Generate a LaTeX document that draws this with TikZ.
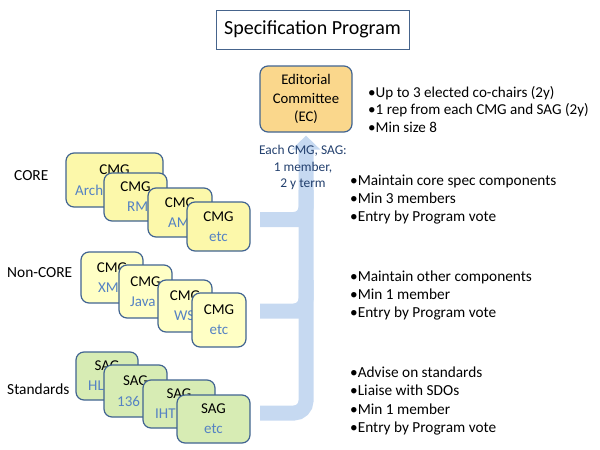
\documentclass[tikz,border=0pt]{standalone}
\usepackage{fontspec}
\setmainfont{Carlito}
\usetikzlibrary{arrows.meta,calc}

\definecolor{boxline}{RGB}{65,100,145}
\definecolor{titleline}{RGB}{70,100,140}
\definecolor{corefill}{RGB}{252,248,170}
\definecolor{ncfill}{RGB}{255,255,197}
\definecolor{stdfill}{RGB}{215,236,180}
\definecolor{ecfill}{RGB}{250,215,140}
\definecolor{subblue}{RGB}{85,130,195}
\definecolor{termblue}{RGB}{35,64,110}
\definecolor{flowblue}{RGB}{198,217,241}

\tikzset{
  grp/.style={draw=boxline, line width=1.2pt, rounded corners=8pt, inner sep=0pt},
  core/.style={grp, fill=corefill},
  noncore/.style={grp, fill=ncfill},
  std/.style={grp, fill=stdfill},
  boxtext/.style={font=\fontsize{15}{19}\selectfont, inner sep=0pt},
  subtext/.style={boxtext, text=subblue},
  rowlabel/.style={font=\fontsize{15.4}{19}\selectfont, inner sep=0pt, anchor=west},
  notes/.style={font=\fontsize{15.3}{18.4}\selectfont, align=left, anchor=west, inner sep=0pt},
  flow/.style={draw=flowblue, line width=15pt, rounded corners=12pt},
}

% box of a group: style, name, centre, size, title
\def\grpbox[#1](#2)(#3,#4)(#5:#6)#7{%
  \node[#1, minimum width=#5pt, minimum height=#6pt] (#2) at (#3,#4) {};
  \node[boxtext] (#2t) at (#3,#4-10) {#7};}

\begin{document}
\begin{tikzpicture}[x=1pt,y=-1pt]
  \useasboundingbox (0,0) rectangle (600,450);

  %%%%% TITLE %%%%%
  \node[draw=titleline, line width=1pt, minimum width=193pt, minimum height=39pt,
        font=\fontsize{20}{24}\selectfont] (title) at (312.5,29.5) {Specification Program};

  %%%%% COMMITTEE AND FLOW %%%%%
  \node[grp, fill=ecfill, minimum width=92pt, minimum height=66pt, align=center,
        font=\fontsize{14.7}{18.5}\selectfont] (ec) at (306,99) {Editorial\\Committee\\(EC)};

  \coordinate (b1) at (260,219.5);
  \coordinate (b2) at (260,311);
  \coordinate (b3) at (260,413);

  \draw[flow] (b1) -| (306,190) (b1) -- (306,219.5);
  \draw[flow] (b2) -| (306,280) (b2) -- (306,311);
  \draw[flow, -{Triangle[width=28pt,length=14pt]}] (b3) -| ([yshift=-3pt]ec.south);

  \node[align=center, inner sep=0pt, text=termblue, font=\fontsize{13.4}{16.5}\selectfont]
    (term) at (303,167.5) {Each CMG, SAG:\\1 member,\\2 y term};

  %%%%% NOTES %%%%%
  \node[notes, font=\fontsize{15.1}{17.5}\selectfont] (ecn) at (368,109.5)
    {•Up to 3 elected co-chairs (2y)\\•1 rep from each CMG and SAG (2y)\\•Min size 8};
  \node[notes] (coren) at (350,199.5)
    {•Maintain core spec components\\•Min 3 members\\•Entry by Program vote};
  \node[notes] (ncn) at (350,295.5)
    {•Maintain other components\\•Min 1 member\\•Entry by Program vote};
  \node[notes] (stdn) at (350,401)
    {•Advise on standards\\•Liaise with SDOs\\•Min 1 member\\•Entry by Program vote};

  %%%%% CORE %%%%%
  \node[rowlabel] (corel) at (14,176) {CORE};
  \grpbox[core](c1)(114.5,180)(97:54){CMG}
  \node[subtext, anchor=west] (c1s) at (75,190) {Arch};
  \grpbox[core](c2)(135.5,197)(63:48){CMG}
  \node[subtext, anchor=west] (c2s) at (127,207) {RM};
  \grpbox[core](c3)(180,212.5)(64:49){CMG}
  \node[subtext, anchor=west] (c3s) at (168,222.5) {AM};
  \grpbox[core](c4)(218.5,226.5)(63:49){CMG}
  \node[subtext] (c4s) at (218.5,236.5) {etc};

  %%%%% NON-CORE %%%%%
  \node[rowlabel] (ncl) at (7,273) {Non-CORE};
  \grpbox[noncore](n1)(112,277.5)(62:51){CMG}
  \node[subtext, anchor=west] (n1s) at (98,287.5) {XM};
  \grpbox[noncore](n2)(145.5,291.5)(53:53){CMG}
  \node[subtext, anchor=west] (n2s) at (130,301.5) {Java};
  \grpbox[noncore](n3)(185,306)(54:52){CMG}
  \node[subtext, anchor=west] (n3s) at (174,316) {WS};
  \grpbox[noncore](n4)(219,320)(54:54){CMG}
  \node[subtext] (n4s) at (219,330) {etc};

  %%%%% STANDARDS %%%%%
  \node[rowlabel] (stdl) at (7,389) {Standards};
  \grpbox[std](s1)(107,376)(62:48){SAG}
  \node[subtext, anchor=west] (s1s) at (88,386) {HL};
  \grpbox[std](s2)(135.5,391)(63:52){SAG}
  \node[subtext, anchor=west] (s2s) at (117,401) {136};
  \grpbox[std](s3)(179,404)(72:48){SAG}
  \node[subtext, anchor=west] (s3s) at (155,414) {IHT};
  \grpbox[std](s4)(213.5,419)(73:48){SAG}
  \node[subtext] (s4s) at (213.5,429) {etc};
\end{tikzpicture}
\end{document}
